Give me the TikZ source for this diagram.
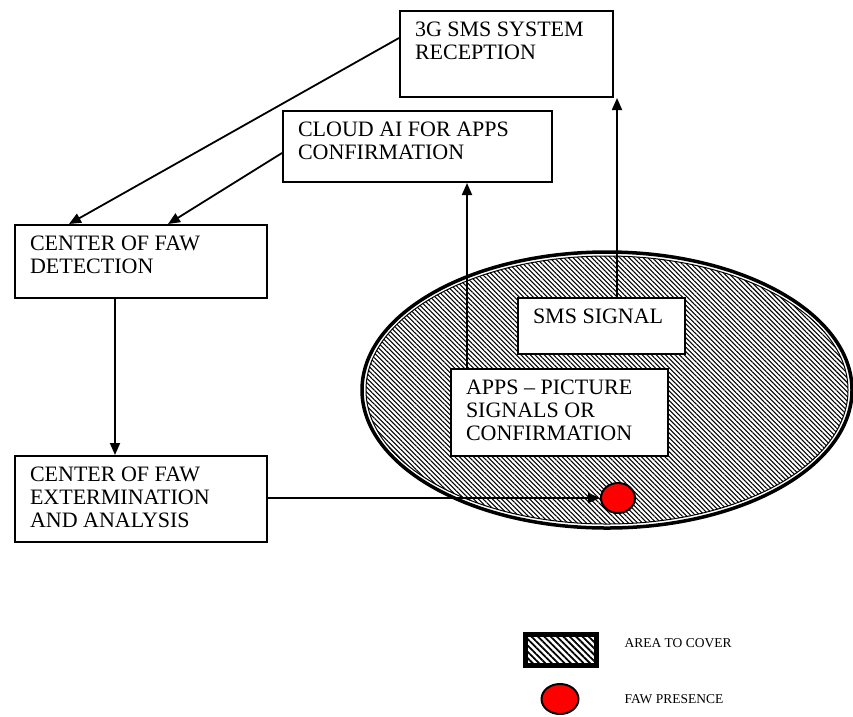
\documentclass[tikz,border=0pt]{standalone}
\usepackage{fontspec}
\setmainfont{Liberation Serif}
\usetikzlibrary{shapes.geometric,patterns.meta,arrows.meta}

\newcommand{\boxtext}[3]{\parbox[t][#2][t]{#1}{\raggedright #3}}

\begin{document}
\begin{tikzpicture}[x=1pt,y=-1pt,
    fawbox/.style={draw,fill=white,line width=2pt,anchor=north west,inner xsep=15pt,inner ysep=11pt,font=\fontsize{22}{23}\selectfont},
    link/.style={line width=1.8pt,-{Triangle[length=12pt,width=10pt]}},
    hatch/.style={pattern={Lines[angle=-45,distance=3.3pt,line width=1.1pt]}},
    faw/.style={ellipse,draw,line width=2pt,fill=red,minimum width=34pt,minimum height=30pt,inner sep=0},
    legendtext/.style={anchor=west,font=\fontsize{13.5}{15}\selectfont}]
    \fill[white] (0,0) rectangle (853,716);
    \useasboundingbox (0,0) rectangle (853,716);

    % area to cover
    \node at (607,390) [ellipse,draw,line width=3.5pt,fill=white,minimum width=490pt,minimum height=276pt,inner sep=0] (area) {};
    \filldraw[hatch,line width=1pt] (area.center) ellipse [x radius=241pt,y radius=134pt];

    \node at (399,10) [fawbox] (threeg) {\boxtext{183pt}{64pt}{3G SMS SYSTEM\\RECEPTION}};
    \node at (282,110) [fawbox] (cloud) {\boxtext{239pt}{49pt}{CLOUD AI FOR APPS\\CONFIRMATION}};
    \node at (14,224) [fawbox] (detect) {\boxtext{222pt}{51pt}{CENTER OF FAW\\DETECTION}};
    \node at (14,455) [fawbox] (exterm) {\boxtext{222pt}{64pt}{CENTER OF FAW\\EXTERMINATION\\AND ANALYSIS}};
    \node at (517,297) [fawbox] (sms) {\boxtext{137pt}{34pt}{SMS SIGNAL}};
    \node at (450,368) [fawbox] (apps) {\boxtext{187pt}{65pt}{APPS – PICTURE\\SIGNALS OR\\CONFIRMATION}};
    \node at (618,498) [faw] (dot) {};

    \coordinate (appsup) at ([xshift=17pt]apps.north west);
    \coordinate (smsup) at ([xshift=100pt]sms.north west);
    \coordinate (detdown) at ([xshift=101pt]detect.south west);
    \coordinate (extout) at (exterm.east |- dot.west);

    \draw[link] ([yshift=-28pt]threeg.north west) -- ([xshift=55pt]detect.north west);
    \draw[link] ([yshift=-43pt]cloud.north west) -- ([xshift=154pt]detect.north west);
    \draw[link] (appsup) -- (appsup |- cloud.south);
    \draw[link] (smsup) -- (smsup |- threeg.south);
    \draw[link] (detdown) -- (detdown |- exterm.north);
    \draw[link] (extout) -- (dot.west);

    % legend
    \node at (561,650) [draw,line width=3pt,fill=white,minimum width=73pt,minimum height=33pt,inner sep=0] (arealeg) {};
    \filldraw[pattern={Lines[angle=-45,distance=4.5pt,line width=1.8pt]},line width=2.5pt] ([shift={(3.75pt,-3.75pt)}]arealeg.north west) rectangle ([shift={(-3.75pt,3.75pt)}]arealeg.south east);
    \node at (621,643) [legendtext] (arealabel) {AREA TO COVER};
    \node at (560,699) [faw,minimum width=37pt] (fawleg) {};
    \node at (621,699) [legendtext] (fawlabel) {FAW PRESENCE};
\end{tikzpicture}
\end{document}
